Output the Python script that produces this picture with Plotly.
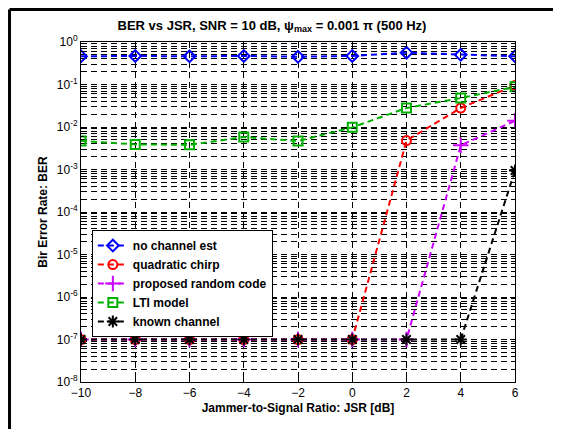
import plotly.graph_objects as go

jsr = [-10, -8, -6, -4, -2, 0, 2, 4, 6]
no_channel_est = [0.46, 0.47, 0.46, 0.47, 0.45, 0.47, 0.56, 0.50, 0.46]
quadratic_chirp = [1e-7, 1e-7, 1e-7, 1e-7, 1e-7, 1e-7, 0.0048, 0.028, 0.095]
proposed_random = [1e-7, 1e-7, 1e-7, 1e-7, 1e-7, 1e-7, 1e-7, 0.0037, 0.014]
lti_model = [0.0047, 0.0039, 0.0038, 0.0058, 0.0047, 0.0098, 0.028, 0.048, 0.088]
known_channel = [1e-7, 1e-7, 1e-7, 1e-7, 1e-7, 1e-7, 1e-7, 1e-7, 0.00095]

ytick_vals = [1e-8, 1e-7, 1e-6, 1e-5, 1e-4, 1e-3, 1e-2, 1e-1, 1]
ytick_text = ["10<sup>-8</sup>", "10<sup>-7</sup>", "10<sup>-6</sup>", "10<sup>-5</sup>",
              "10<sup>-4</sup>", "10<sup>-3</sup>", "10<sup>-2</sup>", "10<sup>-1</sup>",
              "10<sup>0</sup>"]
xtick_vals = [-10, -8, -6, -4, -2, 0, 2, 4, 6]

series = [
    ("no channel est", no_channel_est, "#0000ff", "diamond-open", 9),
    ("quadratic chirp", quadratic_chirp, "#ff0000", "circle-open", 9),
    ("proposed random code", proposed_random, "#cc00ff", "cross-thin-open", 11),
    ("LTI model", lti_model, "#00b000", "square-open", 9),
    ("known channel", known_channel, "#000000", "asterisk-open", 10),
]

fig = go.Figure()
for name, vals, col, sym, sz in series:
    fig.add_trace(go.Scatter(
        x=jsr, y=vals, name=name, mode="lines+markers",
        line=dict(color=col, width=2, dash="6px,4px"),
        marker=dict(symbol=sym, size=sz, color=col, line=dict(color=col, width=2)),
    ))

font_family = "Liberation Sans, Arial, sans-serif"
# page body has an 8px margin, so the figure is offset by 8px
W, H = 553, 421
fig.update_layout(
    width=W, height=H,
    margin=dict(l=73, r=46, t=34, b=47, autoexpand=False),
    paper_bgcolor="white", plot_bgcolor="white",
    font=dict(family=font_family, size=12, color="black"),
    title=dict(text="<b>BER vs JSR, SNR = 10 dB, ψ<sub>max</sub> = 0.001 π (500 Hz)</b>",
               x=(272 - 8) / W, xanchor="center", y=1 - (25 - 8) / H, yanchor="middle",
               font=dict(size=13)),
    showlegend=True,
    legend=dict(x=0.025, y=0.447, xanchor="left", yanchor="top",
                bgcolor="white", bordercolor="black", borderwidth=1,
                font=dict(size=12, family=font_family, weight="bold"),
                tracegroupgap=0, itemwidth=30),
    xaxis=dict(range=[-10, 6], tickvals=xtick_vals, showline=True, linecolor="black",
               linewidth=1, mirror="ticks", ticks="inside", ticklen=5, tickcolor="black",
               showgrid=True, gridcolor="black", griddash="6px,4px", gridwidth=1,
               zeroline=False, automargin=False, tickfont=dict(size=12),
               title=dict(text="<b>Jammer-to-Signal Ratio: JSR [dB]</b>", standoff=4,
                          font=dict(size=12))),
    yaxis=dict(type="log", range=[-8, 0], tickvals=ytick_vals, ticktext=ytick_text,
               showline=True, linecolor="black", linewidth=1, mirror="ticks",
               ticks="inside", ticklen=5, tickcolor="black",
               showgrid=True, gridcolor="black", griddash="6px,4px", gridwidth=1,
               zeroline=False, automargin=False, tickfont=dict(size=12),
               minor=dict(dtick="D1", ticks="inside", ticklen=3, tickcolor="black",
                          showgrid=True, gridcolor="black", griddash="6px,4px", gridwidth=1),
               title=dict(text="<b>Bir Error Rate: BER</b>", standoff=6,
                          font=dict(size=12))),
)

# figure frame (top and left edges)
fig.add_shape(type="line", xref="paper", yref="paper", x0=-0.1647, x1=1.2, y0=1.0956, y1=1.0956,
              line=dict(color="black", width=3))
fig.add_shape(type="line", xref="paper", yref="paper", x0=-0.1647, x1=-0.1647, y0=-0.2, y1=1.0956,
              line=dict(color="black", width=3))

fig.write_html("out.html", config={"displayModeBar": False})
